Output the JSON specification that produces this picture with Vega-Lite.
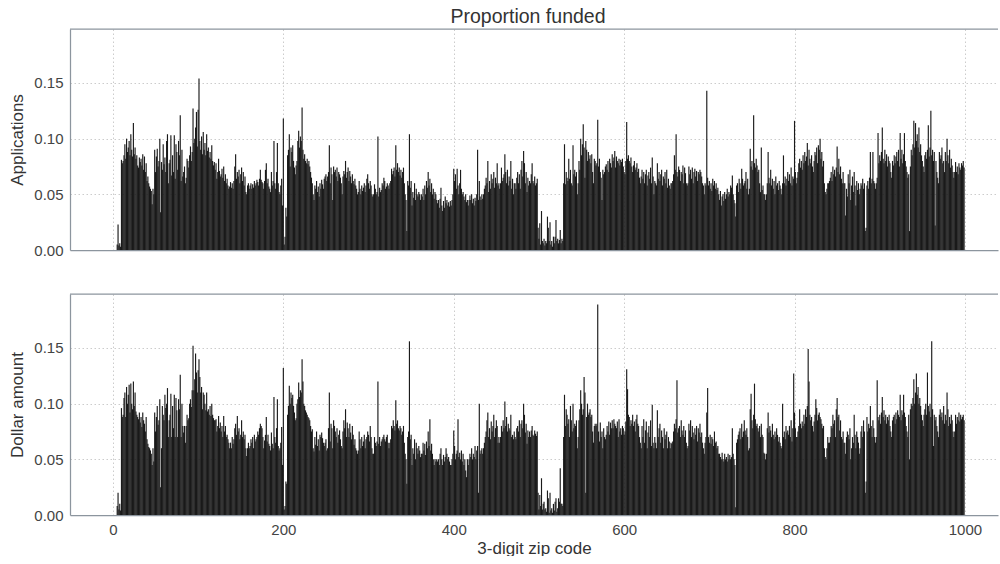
{
"$schema":"https://vega.github.io/schema/vega-lite/v6.json",
"datasets":{"zips":[
{"z":5,"a":0.005,"d":0.008},{"z":6,"a":0.023,"d":0.02},{"z":7,"a":0.004,"d":0.005},{"z":8,"a":0.006,"d":0.01},{"z":9,"a":0.003,"d":0.004},
{"z":10,"a":0.081,"d":0.096},{"z":11,"a":0.078,"d":0.088},{"z":12,"a":0.08,"d":0.09},{"z":13,"a":0.085,"d":0.105},{"z":14,"a":0.095,"d":0.11},{"z":15,"a":0.082,"d":0.088},{"z":16,"a":0.1,"d":0.115},{"z":17,"a":0.088,"d":0.1},{"z":18,"a":0.092,"d":0.108},{"z":19,"a":0.098,"d":0.117},
{"z":20,"a":0.085,"d":0.092},{"z":21,"a":0.104,"d":0.118},{"z":22,"a":0.09,"d":0.1},{"z":23,"a":0.084,"d":0.095},{"z":24,"a":0.114,"d":0.12},{"z":25,"a":0.086,"d":0.098},{"z":26,"a":0.092,"d":0.11},{"z":27,"a":0.082,"d":0.093},{"z":28,"a":0.085,"d":0.09},{"z":29,"a":0.076,"d":0.088},
{"z":30,"a":0.074,"d":0.086},{"z":31,"a":0.083,"d":0.092},{"z":32,"a":0.079,"d":0.083},{"z":33,"a":0.082,"d":0.088},{"z":34,"a":0.076,"d":0.079},{"z":35,"a":0.086,"d":0.092},{"z":36,"a":0.072,"d":0.085},{"z":37,"a":0.084,"d":0.082},{"z":38,"a":0.07,"d":0.075},{"z":39,"a":0.078,"d":0.088},
{"z":40,"a":0.062,"d":0.068},{"z":41,"a":0.066,"d":0.064},{"z":42,"a":0.06,"d":0.061},{"z":43,"a":0.057,"d":0.06},{"z":44,"a":0.055,"d":0.058},{"z":45,"a":0.053,"d":0.055},{"z":46,"a":0.041,"d":0.045},{"z":47,"a":0.055,"d":0.06},{"z":48,"a":0.05,"d":0.048},{"z":49,"a":0.09,"d":0.092},
{"z":50,"a":0.07,"d":0.075},{"z":51,"a":0.084,"d":0.088},{"z":52,"a":0.091,"d":0.098},{"z":53,"a":0.075,"d":0.081},{"z":54,"a":0.08,"d":0.085},{"z":55,"a":0.1,"d":0.104},{"z":56,"a":0.034,"d":0.025},{"z":57,"a":0.079,"d":0.06},{"z":58,"a":0.072,"d":0.098},{"z":59,"a":0.095,"d":0.09},
{"z":60,"a":0.077,"d":0.085},{"z":61,"a":0.083,"d":0.108},{"z":62,"a":0.07,"d":0.096},{"z":63,"a":0.098,"d":0.1},{"z":64,"a":0.104,"d":0.114},{"z":65,"a":0.06,"d":0.07},{"z":66,"a":0.078,"d":0.085},{"z":67,"a":0.081,"d":0.09},{"z":68,"a":0.103,"d":0.109},{"z":69,"a":0.067,"d":0.07},
{"z":70,"a":0.085,"d":0.098},{"z":71,"a":0.07,"d":0.078},{"z":72,"a":0.103,"d":0.108},{"z":73,"a":0.064,"d":0.07},{"z":74,"a":0.095,"d":0.105},{"z":75,"a":0.088,"d":0.094},{"z":76,"a":0.072,"d":0.07},{"z":77,"a":0.098,"d":0.104},{"z":78,"a":0.085,"d":0.095},{"z":79,"a":0.121,"d":0.126},
{"z":80,"a":0.062,"d":0.07},{"z":81,"a":0.09,"d":0.1},{"z":82,"a":0.066,"d":0.08},{"z":83,"a":0.07,"d":0.074},{"z":84,"a":0.075,"d":0.08},{"z":85,"a":0.06,"d":0.065},{"z":86,"a":0.065,"d":0.08},{"z":87,"a":0.082,"d":0.09},{"z":88,"a":0.08,"d":0.085},{"z":89,"a":0.074,"d":0.087},
{"z":90,"a":0.085,"d":0.1},{"z":91,"a":0.093,"d":0.104},{"z":92,"a":0.08,"d":0.097},{"z":93,"a":0.088,"d":0.112},{"z":94,"a":0.127,"d":0.152},{"z":95,"a":0.096,"d":0.112},{"z":96,"a":0.1,"d":0.122},{"z":97,"a":0.11,"d":0.145},{"z":98,"a":0.124,"d":0.128},{"z":99,"a":0.093,"d":0.11},
{"z":100,"a":0.126,"d":0.13},{"z":101,"a":0.154,"d":0.14},{"z":102,"a":0.098,"d":0.124},{"z":103,"a":0.09,"d":0.11},{"z":104,"a":0.102,"d":0.115},{"z":105,"a":0.086,"d":0.095},{"z":106,"a":0.106,"d":0.11},{"z":107,"a":0.09,"d":0.108},{"z":108,"a":0.096,"d":0.1},{"z":109,"a":0.085,"d":0.094},
{"z":110,"a":0.104,"d":0.11},{"z":111,"a":0.089,"d":0.093},{"z":112,"a":0.092,"d":0.095},{"z":113,"a":0.083,"d":0.09},{"z":114,"a":0.088,"d":0.098},{"z":115,"a":0.082,"d":0.089},{"z":116,"a":0.094,"d":0.1},{"z":117,"a":0.08,"d":0.09},{"z":118,"a":0.076,"d":0.087},{"z":119,"a":0.079,"d":0.085},
{"z":120,"a":0.072,"d":0.085},{"z":121,"a":0.078,"d":0.086},{"z":122,"a":0.064,"d":0.075},{"z":123,"a":0.07,"d":0.08},{"z":124,"a":0.082,"d":0.089},{"z":125,"a":0.071,"d":0.078},{"z":126,"a":0.066,"d":0.083},{"z":127,"a":0.068,"d":0.075},{"z":128,"a":0.073,"d":0.08},{"z":129,"a":0.065,"d":0.07},
{"z":130,"a":0.075,"d":0.089},{"z":131,"a":0.062,"d":0.075},{"z":132,"a":0.068,"d":0.08},{"z":133,"a":0.06,"d":0.07},{"z":134,"a":0.064,"d":0.072},{"z":135,"a":0.058,"d":0.068},{"z":136,"a":0.055,"d":0.065},{"z":137,"a":0.057,"d":0.06},{"z":138,"a":0.061,"d":0.065},{"z":139,"a":0.056,"d":0.06},
{"z":140,"a":0.06,"d":0.07},{"z":141,"a":0.055,"d":0.064},{"z":142,"a":0.062,"d":0.068},{"z":143,"a":0.075,"d":0.078},{"z":144,"a":0.086,"d":0.082},{"z":145,"a":0.064,"d":0.072},{"z":146,"a":0.07,"d":0.089},{"z":147,"a":0.066,"d":0.075},{"z":148,"a":0.072,"d":0.078},{"z":149,"a":0.06,"d":0.068},
{"z":150,"a":0.068,"d":0.072},{"z":151,"a":0.074,"d":0.085},{"z":152,"a":0.062,"d":0.07},{"z":153,"a":0.07,"d":0.075},{"z":154,"a":0.058,"d":0.068},{"z":155,"a":0.066,"d":0.072},{"z":156,"a":0.052,"d":0.06},{"z":157,"a":0.05,"d":0.053},{"z":158,"a":0.058,"d":0.06},{"z":159,"a":0.06,"d":0.065},
{"z":160,"a":0.055,"d":0.06},{"z":161,"a":0.058,"d":0.062},{"z":162,"a":0.06,"d":0.068},{"z":163,"a":0.055,"d":0.065},{"z":164,"a":0.059,"d":0.07},{"z":165,"a":0.056,"d":0.06},{"z":166,"a":0.062,"d":0.072},{"z":167,"a":0.058,"d":0.066},{"z":168,"a":0.06,"d":0.068},{"z":169,"a":0.063,"d":0.07},
{"z":170,"a":0.061,"d":0.075},{"z":171,"a":0.058,"d":0.072},{"z":172,"a":0.064,"d":0.078},{"z":173,"a":0.072,"d":0.082},{"z":174,"a":0.063,"d":0.08},{"z":175,"a":0.061,"d":0.078},{"z":176,"a":0.06,"d":0.07},{"z":177,"a":0.055,"d":0.06},{"z":178,"a":0.062,"d":0.067},{"z":179,"a":0.072,"d":0.072},
{"z":180,"a":0.078,"d":0.088},{"z":181,"a":0.06,"d":0.066},{"z":182,"a":0.064,"d":0.072},{"z":183,"a":0.057,"d":0.064},{"z":184,"a":0.055,"d":0.062},{"z":185,"a":0.052,"d":0.058},{"z":186,"a":0.07,"d":0.074},{"z":187,"a":0.058,"d":0.064},{"z":188,"a":0.062,"d":0.06},{"z":189,"a":0.098,"d":0.106},
{"z":190,"a":0.06,"d":0.07},{"z":191,"a":0.055,"d":0.065},{"z":192,"a":0.07,"d":0.078},{"z":193,"a":0.096,"d":0.104},{"z":194,"a":0.06,"d":0.062},{"z":195,"a":0.052,"d":0.058},{"z":196,"a":0.05,"d":0.06},{"z":197,"a":0.058,"d":0.065},{"z":198,"a":0.064,"d":0.079},{"z":199,"a":0.04,"d":0.045},
{"z":200,"a":0.118,"d":0.132},{"z":201,"a":0.005,"d":0.005},{"z":202,"a":0.012,"d":0.008},{"z":203,"a":0.038,"d":0.03},{"z":204,"a":0.03,"d":0.028},{"z":205,"a":0.085,"d":0.09},{"z":206,"a":0.09,"d":0.098},{"z":207,"a":0.104,"d":0.116},{"z":208,"a":0.075,"d":0.1},{"z":209,"a":0.092,"d":0.11},
{"z":210,"a":0.088,"d":0.105},{"z":211,"a":0.094,"d":0.108},{"z":212,"a":0.08,"d":0.098},{"z":213,"a":0.074,"d":0.092},{"z":214,"a":0.068,"d":0.085},{"z":215,"a":0.076,"d":0.087},{"z":216,"a":0.08,"d":0.1},{"z":217,"a":0.098,"d":0.104},{"z":218,"a":0.107,"d":0.119},{"z":219,"a":0.092,"d":0.106},
{"z":220,"a":0.102,"d":0.112},{"z":221,"a":0.098,"d":0.11},{"z":222,"a":0.128,"d":0.14},{"z":223,"a":0.09,"d":0.12},{"z":224,"a":0.082,"d":0.1},{"z":225,"a":0.086,"d":0.098},{"z":226,"a":0.08,"d":0.094},{"z":227,"a":0.078,"d":0.092},{"z":228,"a":0.082,"d":0.09},{"z":229,"a":0.077,"d":0.088},
{"z":230,"a":0.08,"d":0.087},{"z":231,"a":0.075,"d":0.085},{"z":232,"a":0.07,"d":0.08},{"z":233,"a":0.065,"d":0.075},{"z":234,"a":0.06,"d":0.077},{"z":235,"a":0.05,"d":0.06},{"z":236,"a":0.045,"d":0.057},{"z":237,"a":0.058,"d":0.07},{"z":238,"a":0.055,"d":0.063},{"z":239,"a":0.062,"d":0.075},
{"z":240,"a":0.052,"d":0.062},{"z":241,"a":0.057,"d":0.068},{"z":242,"a":0.048,"d":0.058},{"z":243,"a":0.06,"d":0.072},{"z":244,"a":0.055,"d":0.07},{"z":245,"a":0.063,"d":0.074},{"z":246,"a":0.059,"d":0.069},{"z":247,"a":0.055,"d":0.065},{"z":248,"a":0.064,"d":0.062},{"z":249,"a":0.066,"d":0.065},
{"z":250,"a":0.068,"d":0.068},{"z":251,"a":0.062,"d":0.058},{"z":252,"a":0.066,"d":0.06},{"z":253,"a":0.07,"d":0.078},{"z":254,"a":0.094,"d":0.11},{"z":255,"a":0.06,"d":0.066},{"z":256,"a":0.074,"d":0.082},{"z":257,"a":0.068,"d":0.078},{"z":258,"a":0.045,"d":0.06},{"z":259,"a":0.075,"d":0.085},
{"z":260,"a":0.07,"d":0.08},{"z":261,"a":0.072,"d":0.075},{"z":262,"a":0.066,"d":0.07},{"z":263,"a":0.074,"d":0.078},{"z":264,"a":0.062,"d":0.065},{"z":265,"a":0.07,"d":0.072},{"z":266,"a":0.068,"d":0.076},{"z":267,"a":0.065,"d":0.068},{"z":268,"a":0.06,"d":0.062},{"z":269,"a":0.05,"d":0.06},
{"z":270,"a":0.066,"d":0.075},{"z":271,"a":0.071,"d":0.085},{"z":272,"a":0.068,"d":0.078},{"z":273,"a":0.08,"d":0.095},{"z":274,"a":0.065,"d":0.07},{"z":275,"a":0.07,"d":0.083},{"z":276,"a":0.074,"d":0.078},{"z":277,"a":0.062,"d":0.07},{"z":278,"a":0.071,"d":0.082},{"z":279,"a":0.066,"d":0.074},
{"z":280,"a":0.06,"d":0.068},{"z":281,"a":0.068,"d":0.08},{"z":282,"a":0.062,"d":0.072},{"z":283,"a":0.059,"d":0.063},{"z":284,"a":0.064,"d":0.068},{"z":285,"a":0.058,"d":0.06},{"z":286,"a":0.055,"d":0.058},{"z":287,"a":0.05,"d":0.055},{"z":288,"a":0.052,"d":0.058},{"z":289,"a":0.062,"d":0.075},
{"z":290,"a":0.055,"d":0.068},{"z":291,"a":0.05,"d":0.06},{"z":292,"a":0.058,"d":0.07},{"z":293,"a":0.053,"d":0.062},{"z":294,"a":0.056,"d":0.066},{"z":295,"a":0.06,"d":0.072},{"z":296,"a":0.052,"d":0.06},{"z":297,"a":0.058,"d":0.068},{"z":298,"a":0.064,"d":0.07},{"z":299,"a":0.068,"d":0.075},
{"z":300,"a":0.06,"d":0.072},{"z":301,"a":0.055,"d":0.066},{"z":302,"a":0.062,"d":0.08},{"z":303,"a":0.058,"d":0.07},{"z":304,"a":0.05,"d":0.06},{"z":305,"a":0.048,"d":0.055},{"z":306,"a":0.05,"d":0.055},{"z":307,"a":0.059,"d":0.07},{"z":308,"a":0.055,"d":0.065},{"z":309,"a":0.05,"d":0.062},
{"z":310,"a":0.052,"d":0.066},{"z":311,"a":0.102,"d":0.12},{"z":312,"a":0.048,"d":0.064},{"z":313,"a":0.056,"d":0.07},{"z":314,"a":0.052,"d":0.062},{"z":315,"a":0.054,"d":0.066},{"z":316,"a":0.06,"d":0.068},{"z":317,"a":0.058,"d":0.07},{"z":318,"a":0.065,"d":0.072},{"z":319,"a":0.062,"d":0.068},
{"z":320,"a":0.055,"d":0.066},{"z":321,"a":0.057,"d":0.07},{"z":322,"a":0.06,"d":0.072},{"z":323,"a":0.058,"d":0.065},{"z":324,"a":0.055,"d":0.06},{"z":325,"a":0.06,"d":0.065},{"z":326,"a":0.062,"d":0.068},{"z":327,"a":0.073,"d":0.08},{"z":328,"a":0.068,"d":0.078},{"z":329,"a":0.071,"d":0.085},
{"z":330,"a":0.074,"d":0.08},{"z":331,"a":0.066,"d":0.076},{"z":332,"a":0.094,"d":0.103},{"z":333,"a":0.072,"d":0.082},{"z":334,"a":0.078,"d":0.085},{"z":335,"a":0.07,"d":0.078},{"z":336,"a":0.074,"d":0.076},{"z":337,"a":0.067,"d":0.08},{"z":338,"a":0.072,"d":0.078},{"z":339,"a":0.065,"d":0.072},
{"z":340,"a":0.07,"d":0.075},{"z":341,"a":0.074,"d":0.08},{"z":342,"a":0.06,"d":0.065},{"z":343,"a":0.05,"d":0.055},{"z":344,"a":0.045,"d":0.05},{"z":345,"a":0.017,"d":0.028},{"z":346,"a":0.062,"d":0.07},{"z":347,"a":0.058,"d":0.075},{"z":348,"a":0.104,"d":0.156},{"z":349,"a":0.056,"d":0.068},
{"z":350,"a":0.062,"d":0.072},{"z":351,"a":0.04,"d":0.045},{"z":352,"a":0.052,"d":0.06},{"z":353,"a":0.047,"d":0.055},{"z":354,"a":0.06,"d":0.068},{"z":355,"a":0.045,"d":0.05},{"z":356,"a":0.055,"d":0.065},{"z":357,"a":0.05,"d":0.06},{"z":358,"a":0.048,"d":0.055},{"z":359,"a":0.052,"d":0.062},
{"z":360,"a":0.05,"d":0.058},{"z":361,"a":0.045,"d":0.052},{"z":362,"a":0.05,"d":0.055},{"z":363,"a":0.048,"d":0.055},{"z":364,"a":0.055,"d":0.065},{"z":365,"a":0.045,"d":0.058},{"z":366,"a":0.058,"d":0.064},{"z":367,"a":0.05,"d":0.054},{"z":368,"a":0.062,"d":0.066},{"z":369,"a":0.056,"d":0.06},
{"z":370,"a":0.07,"d":0.075},{"z":371,"a":0.058,"d":0.062},{"z":372,"a":0.064,"d":0.086},{"z":373,"a":0.052,"d":0.058},{"z":374,"a":0.06,"d":0.064},{"z":375,"a":0.05,"d":0.055},{"z":376,"a":0.055,"d":0.05},{"z":377,"a":0.046,"d":0.045},{"z":378,"a":0.052,"d":0.05},{"z":379,"a":0.05,"d":0.048},
{"z":380,"a":0.045,"d":0.05},{"z":381,"a":0.042,"d":0.048},{"z":382,"a":0.045,"d":0.05},{"z":383,"a":0.038,"d":0.045},{"z":384,"a":0.046,"d":0.055},{"z":385,"a":0.056,"d":0.06},{"z":386,"a":0.04,"d":0.05},{"z":387,"a":0.035,"d":0.045},{"z":388,"a":0.044,"d":0.054},{"z":389,"a":0.038,"d":0.048},
{"z":390,"a":0.048,"d":0.052},{"z":391,"a":0.042,"d":0.06},{"z":392,"a":0.045,"d":0.055},{"z":393,"a":0.04,"d":0.05},{"z":394,"a":0.043,"d":0.052},{"z":395,"a":0.039,"d":0.048},{"z":396,"a":0.044,"d":0.045},{"z":397,"a":0.04,"d":0.045},{"z":398,"a":0.045,"d":0.05},{"z":399,"a":0.05,"d":0.055},
{"z":400,"a":0.073,"d":0.076},{"z":401,"a":0.062,"d":0.062},{"z":402,"a":0.068,"d":0.05},{"z":403,"a":0.055,"d":0.055},{"z":404,"a":0.073,"d":0.058},{"z":405,"a":0.058,"d":0.086},{"z":406,"a":0.05,"d":0.052},{"z":407,"a":0.06,"d":0.056},{"z":408,"a":0.072,"d":0.05},{"z":409,"a":0.055,"d":0.058},
{"z":410,"a":0.05,"d":0.048},{"z":411,"a":0.052,"d":0.055},{"z":412,"a":0.048,"d":0.045},{"z":413,"a":0.045,"d":0.05},{"z":414,"a":0.05,"d":0.04},{"z":415,"a":0.043,"d":0.034},{"z":416,"a":0.045,"d":0.05},{"z":417,"a":0.04,"d":0.045},{"z":418,"a":0.045,"d":0.05},{"z":419,"a":0.049,"d":0.055},
{"z":420,"a":0.045,"d":0.052},{"z":421,"a":0.05,"d":0.06},{"z":422,"a":0.042,"d":0.05},{"z":423,"a":0.046,"d":0.055},{"z":424,"a":0.04,"d":0.052},{"z":425,"a":0.047,"d":0.062},{"z":426,"a":0.044,"d":0.05},{"z":427,"a":0.05,"d":0.058},{"z":428,"a":0.09,"d":0.062},{"z":429,"a":0.045,"d":0.02},
{"z":430,"a":0.062,"d":0.1},{"z":431,"a":0.048,"d":0.055},{"z":432,"a":0.045,"d":0.058},{"z":433,"a":0.05,"d":0.06},{"z":434,"a":0.046,"d":0.055},{"z":435,"a":0.05,"d":0.06},{"z":436,"a":0.055,"d":0.065},{"z":437,"a":0.058,"d":0.07},{"z":438,"a":0.065,"d":0.075},{"z":439,"a":0.06,"d":0.085},
{"z":440,"a":0.08,"d":0.092},{"z":441,"a":0.052,"d":0.07},{"z":442,"a":0.062,"d":0.078},{"z":443,"a":0.055,"d":0.068},{"z":444,"a":0.068,"d":0.084},{"z":445,"a":0.06,"d":0.075},{"z":446,"a":0.064,"d":0.08},{"z":447,"a":0.07,"d":0.09},{"z":448,"a":0.056,"d":0.07},{"z":449,"a":0.065,"d":0.078},
{"z":450,"a":0.06,"d":0.085},{"z":451,"a":0.078,"d":0.08},{"z":452,"a":0.058,"d":0.065},{"z":453,"a":0.06,"d":0.07},{"z":454,"a":0.055,"d":0.065},{"z":455,"a":0.06,"d":0.07},{"z":456,"a":0.074,"d":0.08},{"z":457,"a":0.062,"d":0.075},{"z":458,"a":0.065,"d":0.085},{"z":459,"a":0.068,"d":0.078},
{"z":460,"a":0.086,"d":0.102},{"z":461,"a":0.07,"d":0.08},{"z":462,"a":0.06,"d":0.088},{"z":463,"a":0.072,"d":0.075},{"z":464,"a":0.058,"d":0.082},{"z":465,"a":0.066,"d":0.078},{"z":466,"a":0.062,"d":0.076},{"z":467,"a":0.08,"d":0.09},{"z":468,"a":0.055,"d":0.07},{"z":469,"a":0.064,"d":0.072},
{"z":470,"a":0.05,"d":0.068},{"z":471,"a":0.06,"d":0.075},{"z":472,"a":0.06,"d":0.07},{"z":473,"a":0.055,"d":0.068},{"z":474,"a":0.065,"d":0.078},{"z":475,"a":0.07,"d":0.08},{"z":476,"a":0.06,"d":0.075},{"z":477,"a":0.068,"d":0.085},{"z":478,"a":0.055,"d":0.07},{"z":479,"a":0.072,"d":0.082},
{"z":480,"a":0.08,"d":0.085},{"z":481,"a":0.066,"d":0.078},{"z":482,"a":0.089,"d":0.1},{"z":483,"a":0.078,"d":0.09},{"z":484,"a":0.06,"d":0.074},{"z":485,"a":0.07,"d":0.082},{"z":486,"a":0.052,"d":0.064},{"z":487,"a":0.065,"d":0.076},{"z":488,"a":0.058,"d":0.07},{"z":489,"a":0.062,"d":0.075},
{"z":490,"a":0.06,"d":0.07},{"z":491,"a":0.068,"d":0.076},{"z":492,"a":0.078,"d":0.08},{"z":493,"a":0.062,"d":0.072},{"z":494,"a":0.06,"d":0.071},{"z":495,"a":0.066,"d":0.076},{"z":496,"a":0.058,"d":0.073},{"z":497,"a":0.06,"d":0.071},{"z":498,"a":0.064,"d":0.075},{"z":499,"a":0.02,"d":0.02},
{"z":500,"a":0.01,"d":0.005},{"z":501,"a":0.024,"d":0.018},{"z":502,"a":0.005,"d":0.008},{"z":503,"a":0.035,"d":0.033},{"z":504,"a":0.008,"d":0.005},{"z":505,"a":0.006,"d":0.01},{"z":506,"a":0.01,"d":0.012},{"z":507,"a":0.004,"d":0.005},{"z":508,"a":0.008,"d":0.006},{"z":509,"a":0.006,"d":0.003},
{"z":510,"a":0.03,"d":0.022},{"z":511,"a":0.02,"d":0.015},{"z":512,"a":0.008,"d":0.002},{"z":513,"a":0.025,"d":0.02},{"z":514,"a":0.005,"d":0.004},{"z":515,"a":0.008,"d":0.006},{"z":516,"a":0.003,"d":0.002},{"z":517,"a":0.012,"d":0.01},{"z":518,"a":0.006,"d":0.004},{"z":519,"a":0.012,"d":0.012},
{"z":520,"a":0.027,"d":0.015},{"z":521,"a":0.008,"d":0.003},{"z":522,"a":0.01,"d":0.006},{"z":523,"a":0.006,"d":0.015},{"z":524,"a":0.009,"d":0.012},{"z":525,"a":0.018,"d":0.042},{"z":526,"a":0.006,"d":0.01},{"z":527,"a":0.01,"d":0.01},{"z":528,"a":0.008,"d":0.008},{"z":529,"a":0.06,"d":0.07},
{"z":530,"a":0.095,"d":0.108},{"z":531,"a":0.059,"d":0.08},{"z":532,"a":0.07,"d":0.095},{"z":533,"a":0.065,"d":0.09},{"z":534,"a":0.062,"d":0.082},{"z":535,"a":0.082,"d":0.086},{"z":536,"a":0.064,"d":0.07},{"z":537,"a":0.072,"d":0.098},{"z":538,"a":0.06,"d":0.085},{"z":539,"a":0.058,"d":0.075},
{"z":540,"a":0.094,"d":0.1},{"z":541,"a":0.068,"d":0.078},{"z":542,"a":0.072,"d":0.082},{"z":543,"a":0.066,"d":0.08},{"z":544,"a":0.07,"d":0.085},{"z":545,"a":0.05,"d":0.06},{"z":546,"a":0.06,"d":0.07},{"z":547,"a":0.08,"d":0.085},{"z":548,"a":0.072,"d":0.095},{"z":549,"a":0.1,"d":0.112},
{"z":550,"a":0.085,"d":0.1},{"z":551,"a":0.095,"d":0.09},{"z":552,"a":0.113,"d":0.095},{"z":553,"a":0.092,"d":0.124},{"z":554,"a":0.065,"d":0.11},{"z":555,"a":0.098,"d":0.02},{"z":556,"a":0.09,"d":0.088},{"z":557,"a":0.08,"d":0.1},{"z":558,"a":0.088,"d":0.09},{"z":559,"a":0.082,"d":0.092},
{"z":560,"a":0.085,"d":0.095},{"z":561,"a":0.078,"d":0.088},{"z":562,"a":0.086,"d":0.09},{"z":563,"a":0.07,"d":0.075},{"z":564,"a":0.06,"d":0.065},{"z":565,"a":0.082,"d":0.08},{"z":566,"a":0.08,"d":0.082},{"z":567,"a":0.076,"d":0.08},{"z":568,"a":0.078,"d":0.082},{"z":569,"a":0.117,"d":0.189},
{"z":570,"a":0.075,"d":0.075},{"z":571,"a":0.082,"d":0.066},{"z":572,"a":0.07,"d":0.083},{"z":573,"a":0.065,"d":0.07},{"z":574,"a":0.045,"d":0.075},{"z":575,"a":0.072,"d":0.06},{"z":576,"a":0.068,"d":0.078},{"z":577,"a":0.07,"d":0.07},{"z":578,"a":0.075,"d":0.068},{"z":579,"a":0.077,"d":0.072},
{"z":580,"a":0.072,"d":0.08},{"z":581,"a":0.08,"d":0.075},{"z":582,"a":0.07,"d":0.084},{"z":583,"a":0.082,"d":0.072},{"z":584,"a":0.078,"d":0.083},{"z":585,"a":0.074,"d":0.078},{"z":586,"a":0.086,"d":0.085},{"z":587,"a":0.08,"d":0.078},{"z":588,"a":0.083,"d":0.086},{"z":589,"a":0.089,"d":0.082},
{"z":590,"a":0.074,"d":0.08},{"z":591,"a":0.084,"d":0.078},{"z":592,"a":0.08,"d":0.084},{"z":593,"a":0.078,"d":0.07},{"z":594,"a":0.082,"d":0.086},{"z":595,"a":0.076,"d":0.075},{"z":596,"a":0.081,"d":0.078},{"z":597,"a":0.079,"d":0.072},{"z":598,"a":0.082,"d":0.08},{"z":599,"a":0.075,"d":0.078},
{"z":600,"a":0.07,"d":0.072},{"z":601,"a":0.068,"d":0.075},{"z":602,"a":0.08,"d":0.084},{"z":603,"a":0.115,"d":0.131},{"z":604,"a":0.082,"d":0.113},{"z":605,"a":0.085,"d":0.09},{"z":606,"a":0.08,"d":0.088},{"z":607,"a":0.078,"d":0.08},{"z":608,"a":0.083,"d":0.085},{"z":609,"a":0.075,"d":0.082},
{"z":610,"a":0.07,"d":0.09},{"z":611,"a":0.076,"d":0.08},{"z":612,"a":0.08,"d":0.084},{"z":613,"a":0.072,"d":0.075},{"z":614,"a":0.074,"d":0.086},{"z":615,"a":0.078,"d":0.09},{"z":616,"a":0.07,"d":0.082},{"z":617,"a":0.073,"d":0.08},{"z":618,"a":0.065,"d":0.07},{"z":619,"a":0.06,"d":0.065},
{"z":620,"a":0.066,"d":0.06},{"z":621,"a":0.072,"d":0.08},{"z":622,"a":0.064,"d":0.07},{"z":623,"a":0.07,"d":0.086},{"z":624,"a":0.06,"d":0.065},{"z":625,"a":0.068,"d":0.076},{"z":626,"a":0.072,"d":0.084},{"z":627,"a":0.058,"d":0.06},{"z":628,"a":0.067,"d":0.074},{"z":629,"a":0.07,"d":0.08},
{"z":630,"a":0.064,"d":0.07},{"z":631,"a":0.074,"d":0.085},{"z":632,"a":0.06,"d":0.062},{"z":633,"a":0.083,"d":0.099},{"z":634,"a":0.066,"d":0.065},{"z":635,"a":0.05,"d":0.06},{"z":636,"a":0.062,"d":0.07},{"z":637,"a":0.06,"d":0.065},{"z":638,"a":0.058,"d":0.06},{"z":639,"a":0.078,"d":0.094},
{"z":640,"a":0.064,"d":0.07},{"z":641,"a":0.07,"d":0.078},{"z":642,"a":0.062,"d":0.082},{"z":643,"a":0.068,"d":0.065},{"z":644,"a":0.072,"d":0.076},{"z":645,"a":0.058,"d":0.07},{"z":646,"a":0.066,"d":0.06},{"z":647,"a":0.064,"d":0.078},{"z":648,"a":0.07,"d":0.068},{"z":649,"a":0.06,"d":0.072},
{"z":650,"a":0.072,"d":0.075},{"z":651,"a":0.056,"d":0.06},{"z":652,"a":0.064,"d":0.07},{"z":653,"a":0.058,"d":0.066},{"z":654,"a":0.055,"d":0.06},{"z":655,"a":0.06,"d":0.065},{"z":656,"a":0.06,"d":0.064},{"z":657,"a":0.062,"d":0.066},{"z":658,"a":0.068,"d":0.075},{"z":659,"a":0.085,"d":0.082},
{"z":660,"a":0.072,"d":0.078},{"z":661,"a":0.104,"d":0.086},{"z":662,"a":0.07,"d":0.121},{"z":663,"a":0.066,"d":0.074},{"z":664,"a":0.075,"d":0.078},{"z":665,"a":0.072,"d":0.08},{"z":666,"a":0.062,"d":0.07},{"z":667,"a":0.07,"d":0.085},{"z":668,"a":0.068,"d":0.076},{"z":669,"a":0.076,"d":0.072},
{"z":670,"a":0.06,"d":0.08},{"z":671,"a":0.074,"d":0.07},{"z":672,"a":0.069,"d":0.076},{"z":673,"a":0.06,"d":0.065},{"z":674,"a":0.058,"d":0.06},{"z":675,"a":0.06,"d":0.062},{"z":676,"a":0.075,"d":0.082},{"z":677,"a":0.068,"d":0.076},{"z":678,"a":0.072,"d":0.085},{"z":679,"a":0.064,"d":0.07},
{"z":680,"a":0.074,"d":0.08},{"z":681,"a":0.06,"d":0.074},{"z":682,"a":0.07,"d":0.068},{"z":683,"a":0.073,"d":0.078},{"z":684,"a":0.066,"d":0.072},{"z":685,"a":0.071,"d":0.08},{"z":686,"a":0.062,"d":0.066},{"z":687,"a":0.07,"d":0.078},{"z":688,"a":0.068,"d":0.074},{"z":689,"a":0.072,"d":0.082},
{"z":690,"a":0.07,"d":0.07},{"z":691,"a":0.066,"d":0.074},{"z":692,"a":0.06,"d":0.065},{"z":693,"a":0.058,"d":0.06},{"z":694,"a":0.05,"d":0.055},{"z":695,"a":0.06,"d":0.065},{"z":696,"a":0.058,"d":0.07},{"z":697,"a":0.143,"d":0.092},{"z":698,"a":0.065,"d":0.114},{"z":699,"a":0.058,"d":0.07},
{"z":700,"a":0.062,"d":0.065},{"z":701,"a":0.055,"d":0.072},{"z":702,"a":0.06,"d":0.064},{"z":703,"a":0.053,"d":0.07},{"z":704,"a":0.064,"d":0.068},{"z":705,"a":0.058,"d":0.062},{"z":706,"a":0.062,"d":0.075},{"z":707,"a":0.055,"d":0.065},{"z":708,"a":0.06,"d":0.066},{"z":709,"a":0.054,"d":0.06},
{"z":710,"a":0.056,"d":0.062},{"z":711,"a":0.05,"d":0.055},{"z":712,"a":0.045,"d":0.055},{"z":713,"a":0.053,"d":0.052},{"z":714,"a":0.04,"d":0.05},{"z":715,"a":0.048,"d":0.056},{"z":716,"a":0.05,"d":0.05},{"z":717,"a":0.044,"d":0.048},{"z":718,"a":0.052,"d":0.055},{"z":719,"a":0.046,"d":0.05},
{"z":720,"a":0.05,"d":0.052},{"z":721,"a":0.055,"d":0.048},{"z":722,"a":0.048,"d":0.055},{"z":723,"a":0.052,"d":0.05},{"z":724,"a":0.05,"d":0.054},{"z":725,"a":0.058,"d":0.05},{"z":726,"a":0.056,"d":0.052},{"z":727,"a":0.067,"d":0.078},{"z":728,"a":0.05,"d":0.055},{"z":729,"a":0.045,"d":0.05},
{"z":730,"a":0.042,"d":0.045},{"z":731,"a":0.03,"d":0.007},{"z":732,"a":0.058,"d":0.065},{"z":733,"a":0.06,"d":0.068},{"z":734,"a":0.052,"d":0.072},{"z":735,"a":0.064,"d":0.075},{"z":736,"a":0.06,"d":0.078},{"z":737,"a":0.055,"d":0.068},{"z":738,"a":0.073,"d":0.082},{"z":739,"a":0.064,"d":0.07},
{"z":740,"a":0.058,"d":0.075},{"z":741,"a":0.06,"d":0.085},{"z":742,"a":0.062,"d":0.076},{"z":743,"a":0.07,"d":0.072},{"z":744,"a":0.055,"d":0.078},{"z":745,"a":0.064,"d":0.07},{"z":746,"a":0.05,"d":0.058},{"z":747,"a":0.055,"d":0.06},{"z":748,"a":0.091,"d":0.095},{"z":749,"a":0.075,"d":0.109},
{"z":750,"a":0.08,"d":0.085},{"z":751,"a":0.072,"d":0.078},{"z":752,"a":0.121,"d":0.09},{"z":753,"a":0.078,"d":0.118},{"z":754,"a":0.074,"d":0.086},{"z":755,"a":0.082,"d":0.08},{"z":756,"a":0.076,"d":0.082},{"z":757,"a":0.07,"d":0.078},{"z":758,"a":0.072,"d":0.075},{"z":759,"a":0.06,"d":0.08},
{"z":760,"a":0.052,"d":0.07},{"z":761,"a":0.092,"d":0.082},{"z":762,"a":0.054,"d":0.072},{"z":763,"a":0.058,"d":0.07},{"z":764,"a":0.05,"d":0.056},{"z":765,"a":0.05,"d":0.055},{"z":766,"a":0.045,"d":0.05},{"z":767,"a":0.05,"d":0.055},{"z":768,"a":0.06,"d":0.078},{"z":769,"a":0.088,"d":0.092},
{"z":770,"a":0.065,"d":0.074},{"z":771,"a":0.06,"d":0.08},{"z":772,"a":0.072,"d":0.076},{"z":773,"a":0.058,"d":0.07},{"z":774,"a":0.064,"d":0.082},{"z":775,"a":0.055,"d":0.072},{"z":776,"a":0.062,"d":0.068},{"z":777,"a":0.05,"d":0.075},{"z":778,"a":0.066,"d":0.07},{"z":779,"a":0.058,"d":0.078},
{"z":780,"a":0.06,"d":0.072},{"z":781,"a":0.054,"d":0.066},{"z":782,"a":0.062,"d":0.07},{"z":783,"a":0.058,"d":0.065},{"z":784,"a":0.055,"d":0.062},{"z":785,"a":0.05,"d":0.06},{"z":786,"a":0.06,"d":0.1},{"z":787,"a":0.085,"d":0.07},{"z":788,"a":0.06,"d":0.075},{"z":789,"a":0.066,"d":0.068},
{"z":790,"a":0.058,"d":0.08},{"z":791,"a":0.064,"d":0.074},{"z":792,"a":0.07,"d":0.076},{"z":793,"a":0.062,"d":0.072},{"z":794,"a":0.068,"d":0.08},{"z":795,"a":0.06,"d":0.07},{"z":796,"a":0.074,"d":0.085},{"z":797,"a":0.058,"d":0.066},{"z":798,"a":0.066,"d":0.078},{"z":799,"a":0.064,"d":0.127},
{"z":800,"a":0.116,"d":0.092},{"z":801,"a":0.07,"d":0.078},{"z":802,"a":0.06,"d":0.07},{"z":803,"a":0.065,"d":0.07},{"z":804,"a":0.07,"d":0.075},{"z":805,"a":0.078,"d":0.08},{"z":806,"a":0.082,"d":0.095},{"z":807,"a":0.074,"d":0.082},{"z":808,"a":0.08,"d":0.078},{"z":809,"a":0.072,"d":0.084},
{"z":810,"a":0.085,"d":0.08},{"z":811,"a":0.078,"d":0.09},{"z":812,"a":0.088,"d":0.082},{"z":813,"a":0.08,"d":0.095},{"z":814,"a":0.084,"d":0.088},{"z":815,"a":0.096,"d":0.098},{"z":816,"a":0.076,"d":0.149},{"z":817,"a":0.09,"d":0.12},{"z":818,"a":0.082,"d":0.09},{"z":819,"a":0.078,"d":0.085},
{"z":820,"a":0.085,"d":0.088},{"z":821,"a":0.075,"d":0.08},{"z":822,"a":0.07,"d":0.075},{"z":823,"a":0.08,"d":0.084},{"z":824,"a":0.088,"d":0.09},{"z":825,"a":0.085,"d":0.104},{"z":826,"a":0.092,"d":0.096},{"z":827,"a":0.078,"d":0.085},{"z":828,"a":0.094,"d":0.09},{"z":829,"a":0.09,"d":0.092},
{"z":830,"a":0.1,"d":0.088},{"z":831,"a":0.082,"d":0.086},{"z":832,"a":0.088,"d":0.082},{"z":833,"a":0.075,"d":0.078},{"z":834,"a":0.08,"d":0.08},{"z":835,"a":0.06,"d":0.06},{"z":836,"a":0.052,"d":0.052},{"z":837,"a":0.05,"d":0.05},{"z":838,"a":0.055,"d":0.06},{"z":839,"a":0.06,"d":0.07},
{"z":840,"a":0.06,"d":0.065},{"z":841,"a":0.062,"d":0.065},{"z":842,"a":0.065,"d":0.07},{"z":843,"a":0.07,"d":0.08},{"z":844,"a":0.062,"d":0.078},{"z":845,"a":0.075,"d":0.09},{"z":846,"a":0.068,"d":0.082},{"z":847,"a":0.072,"d":0.085},{"z":848,"a":0.066,"d":0.07},{"z":849,"a":0.074,"d":0.095},
{"z":850,"a":0.093,"d":0.105},{"z":851,"a":0.07,"d":0.088},{"z":852,"a":0.082,"d":0.09},{"z":853,"a":0.068,"d":0.076},{"z":854,"a":0.075,"d":0.085},{"z":855,"a":0.064,"d":0.07},{"z":856,"a":0.06,"d":0.068},{"z":857,"a":0.07,"d":0.075},{"z":858,"a":0.06,"d":0.065},{"z":859,"a":0.06,"d":0.065},
{"z":860,"a":0.031,"d":0.055},{"z":861,"a":0.055,"d":0.07},{"z":862,"a":0.048,"d":0.075},{"z":863,"a":0.068,"d":0.072},{"z":864,"a":0.06,"d":0.068},{"z":865,"a":0.072,"d":0.078},{"z":866,"a":0.045,"d":0.05},{"z":867,"a":0.058,"d":0.06},{"z":868,"a":0.066,"d":0.07},{"z":869,"a":0.052,"d":0.065},
{"z":870,"a":0.07,"d":0.09},{"z":871,"a":0.058,"d":0.072},{"z":872,"a":0.04,"d":0.06},{"z":873,"a":0.062,"d":0.075},{"z":874,"a":0.054,"d":0.07},{"z":875,"a":0.06,"d":0.065},{"z":876,"a":0.05,"d":0.055},{"z":877,"a":0.055,"d":0.06},{"z":878,"a":0.06,"d":0.075},{"z":879,"a":0.058,"d":0.08},
{"z":880,"a":0.064,"d":0.07},{"z":881,"a":0.055,"d":0.085},{"z":882,"a":0.06,"d":0.075},{"z":883,"a":0.017,"d":0.02},{"z":884,"a":0.02,"d":0.03},{"z":885,"a":0.058,"d":0.088},{"z":886,"a":0.062,"d":0.075},{"z":887,"a":0.055,"d":0.082},{"z":888,"a":0.065,"d":0.078},{"z":889,"a":0.088,"d":0.098},
{"z":890,"a":0.06,"d":0.08},{"z":891,"a":0.064,"d":0.07},{"z":892,"a":0.088,"d":0.085},{"z":893,"a":0.062,"d":0.078},{"z":894,"a":0.06,"d":0.07},{"z":895,"a":0.055,"d":0.065},{"z":896,"a":0.06,"d":0.07},{"z":897,"a":0.065,"d":0.121},{"z":898,"a":0.105,"d":0.088},{"z":899,"a":0.078,"d":0.085},
{"z":900,"a":0.085,"d":0.09},{"z":901,"a":0.08,"d":0.082},{"z":902,"a":0.088,"d":0.092},{"z":903,"a":0.11,"d":0.106},{"z":904,"a":0.082,"d":0.088},{"z":905,"a":0.078,"d":0.094},{"z":906,"a":0.09,"d":0.085},{"z":907,"a":0.08,"d":0.09},{"z":908,"a":0.086,"d":0.082},{"z":909,"a":0.075,"d":0.088},
{"z":910,"a":0.084,"d":0.085},{"z":911,"a":0.08,"d":0.09},{"z":912,"a":0.078,"d":0.08},{"z":913,"a":0.07,"d":0.075},{"z":914,"a":0.065,"d":0.07},{"z":915,"a":0.08,"d":0.085},{"z":916,"a":0.076,"d":0.088},{"z":917,"a":0.085,"d":0.09},{"z":918,"a":0.078,"d":0.082},{"z":919,"a":0.084,"d":0.092},
{"z":920,"a":0.088,"d":0.086},{"z":921,"a":0.08,"d":0.094},{"z":922,"a":0.09,"d":0.09},{"z":923,"a":0.075,"d":0.088},{"z":924,"a":0.105,"d":0.108},{"z":925,"a":0.082,"d":0.085},{"z":926,"a":0.09,"d":0.094},{"z":927,"a":0.078,"d":0.09},{"z":928,"a":0.086,"d":0.108},{"z":929,"a":0.105,"d":0.092},
{"z":930,"a":0.08,"d":0.088},{"z":931,"a":0.075,"d":0.08},{"z":932,"a":0.07,"d":0.075},{"z":933,"a":0.065,"d":0.07},{"z":934,"a":0.068,"d":0.09},{"z":935,"a":0.017,"d":0.05},{"z":936,"a":0.075,"d":0.095},{"z":937,"a":0.09,"d":0.1},{"z":938,"a":0.085,"d":0.098},{"z":939,"a":0.095,"d":0.105},
{"z":940,"a":0.116,"d":0.122},{"z":941,"a":0.092,"d":0.1},{"z":942,"a":0.114,"d":0.11},{"z":943,"a":0.098,"d":0.127},{"z":944,"a":0.104,"d":0.108},{"z":945,"a":0.092,"d":0.115},{"z":946,"a":0.11,"d":0.1},{"z":947,"a":0.088,"d":0.105},{"z":948,"a":0.095,"d":0.098},{"z":949,"a":0.085,"d":0.09},
{"z":950,"a":0.08,"d":0.085},{"z":951,"a":0.075,"d":0.08},{"z":952,"a":0.07,"d":0.09},{"z":953,"a":0.085,"d":0.095},{"z":954,"a":0.088,"d":0.1},{"z":955,"a":0.082,"d":0.09},{"z":956,"a":0.09,"d":0.128},{"z":957,"a":0.112,"d":0.098},{"z":958,"a":0.084,"d":0.093},{"z":959,"a":0.092,"d":0.1},
{"z":960,"a":0.125,"d":0.088},{"z":961,"a":0.085,"d":0.156},{"z":962,"a":0.09,"d":0.095},{"z":963,"a":0.08,"d":0.062},{"z":964,"a":0.088,"d":0.09},{"z":965,"a":0.022,"d":0.085},{"z":966,"a":0.08,"d":0.088},{"z":967,"a":0.07,"d":0.08},{"z":968,"a":0.065,"d":0.075},{"z":969,"a":0.06,"d":0.07},
{"z":970,"a":0.088,"d":0.09},{"z":971,"a":0.082,"d":0.095},{"z":972,"a":0.085,"d":0.088},{"z":973,"a":0.092,"d":0.092},{"z":974,"a":0.078,"d":0.085},{"z":975,"a":0.08,"d":0.098},{"z":976,"a":0.07,"d":0.082},{"z":977,"a":0.088,"d":0.09},{"z":978,"a":0.08,"d":0.085},{"z":979,"a":0.1,"d":0.11},
{"z":980,"a":0.085,"d":0.095},{"z":981,"a":0.078,"d":0.08},{"z":982,"a":0.09,"d":0.088},{"z":983,"a":0.074,"d":0.082},{"z":984,"a":0.082,"d":0.09},{"z":985,"a":0.076,"d":0.085},{"z":986,"a":0.07,"d":0.075},{"z":987,"a":0.065,"d":0.07},{"z":988,"a":0.07,"d":0.075},{"z":989,"a":0.079,"d":0.09},
{"z":990,"a":0.07,"d":0.082},{"z":991,"a":0.075,"d":0.088},{"z":992,"a":0.068,"d":0.085},{"z":993,"a":0.078,"d":0.092},{"z":994,"a":0.074,"d":0.084},{"z":995,"a":0.072,"d":0.09},{"z":996,"a":0.078,"d":0.086},{"z":997,"a":0.076,"d":0.088},{"z":998,"a":0.08,"d":0.09},{"z":999,"a":0.074,"d":0.085}
]},
"padding":{"left":8,"top":6,"right":0,"bottom":0},
"spacing":44,
"bounds":"flush",
"vconcat":[
{"width":928,"height":221,
 "title":{"text":"Proportion funded","frame":"group","anchor":"middle","fontSize":19.5,"fontWeight":"normal","color":"#333333","offset":1,"dx":-6},
 "data":{"name":"zips"},
 "layer":[
  {"mark":{"type":"bar","width":1.15,"color":"#1a1a1a"},
   "encoding":{
    "x":{"field":"z","type":"quantitative","scale":{"domain":[-50.4,1038.8],"nice":false,"zero":false,"padding":0},"axis":{"values":[0,200,400,600,800,1000],"labels":false,"title":null}},
    "y":{"field":"a","type":"quantitative","scale":{"domain":[0,0.1985],"nice":false,"padding":0},"axis":{"values":[0,0.05,0.1,0.15],"format":".2f","title":"Applications"}}}},
  {"data":{"values":[{}]},"mark":{"type":"rule","color":"#8c959e","strokeWidth":1.25},
   "encoding":{"y":{"datum":0.1985,"type":"quantitative","axis":{"title":"Applications"}}}}
 ]},
{"width":928,"height":221,
 "data":{"name":"zips"},
 "layer":[
  {"mark":{"type":"bar","width":1.15,"color":"#1a1a1a"},
   "encoding":{
    "x":{"field":"z","type":"quantitative","scale":{"domain":[-50.4,1038.8],"nice":false,"zero":false,"padding":0},"axis":{"values":[0,200,400,600,800,1000],"format":"d","title":"3-digit zip code","titlePadding":3}},
    "y":{"field":"d","type":"quantitative","scale":{"domain":[0,0.1985],"nice":false,"padding":0},"axis":{"values":[0,0.05,0.1,0.15],"format":".2f","title":"Dollar amount"}}}},
  {"data":{"values":[{}]},"mark":{"type":"rule","color":"#8c959e","strokeWidth":1.25},
   "encoding":{"y":{"datum":0.1985,"type":"quantitative","axis":{"title":"Dollar amount"}}}}
 ]}
],
"config":{
 "font":"Liberation Sans",
 "view":{"stroke":null},
 "axis":{"grid":true,"gridColor":"#cccccc","gridDash":[1.5,2.5],"gridWidth":1,"ticks":false,"domainColor":"#8c959e","domainWidth":1.25,"labelColor":"#444444","labelFontSize":15,"titleColor":"#333333","titleFontSize":17,"titleFontWeight":"normal","labelPadding":7,"titlePadding":7,"zindex":1}
}
}
